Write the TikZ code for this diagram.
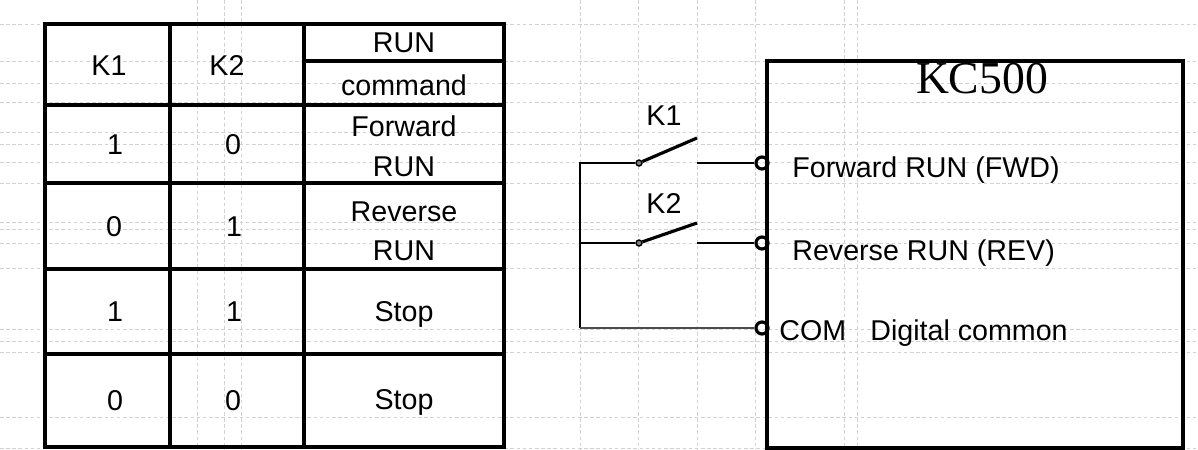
\documentclass[tikz,border=0pt]{standalone}
\usepackage{fontspec}
\setmainfont{Liberation Sans}
\newfontfamily\kcfont{Liberation Serif}
\usepackage{tikz}

\begin{document}
\begin{tikzpicture}[x=0.02cm, y=-0.02cm,
    cell/.style={inner sep=0pt, text height=11.6pt, text depth=0pt, font=\fontsize{16.3}{19}\selectfont},
    gridline/.style={gray!35, line width=0.4pt, dash pattern=on 2pt off 1.5pt},
    rule/.style={line width=1.9pt},
    wire/.style={line width=1.4pt},
    blade/.style={line width=1.8pt},
    term/.style={circle, draw, line width=1.8pt, minimum size=0.24cm, inner sep=0pt},
    contact/.style={circle, draw, line width=0.8pt, fill=black!50, minimum size=0.12cm, inner sep=0pt}]
    \useasboundingbox (0,0) rectangle (1198,450);
    \fill[white] (0,0) rectangle (1198,450);

    % sheet grid
    \foreach \y in {24,61,83,102,132,144,162,183,222,229,243,268,329,341,352,417,448}
      \draw[gridline] (0,\y) -- (1198,\y);
    \foreach \x in {197,224,241,580,638,697,755,844,857}
      \draw[gridline] (\x,0) -- (\x,450);

    % truth table
    \begin{scope}[rule]
      \draw (45,24) rectangle (504,447);
      \draw (170,24) -- (170,447);
      \draw (304,24) -- (304,447);
      \draw (304,61) -- (504,61);
      \foreach \y in {105,183,269,354}
        \draw (45,\y) -- (504,\y);
    \end{scope}

    \begin{scope}[every node/.style={cell}]
      \node (hk1) at (109,65) {K1};
      \node (hk2) at (227,65) {K2};
      \node (hrun) at (404,42) {RUN};
      \node (hcmd) at (404,85) {command};

      \node (ak1) at (115,144) {1};
      \node (ak2) at (233,144) {0};
      \node (acmd) at (404,126) {Forward};
      \node (acmdb) at (404,166) {RUN};

      \node (bk1) at (114,226) {0};
      \node (bk2) at (234,226) {1};
      \node (bcmd) at (404,211) {Reverse};
      \node (bcmdb) at (404,250) {RUN};

      \node (ck1) at (115,311) {1};
      \node (ck2) at (234,311) {1};
      \node (ccmd) at (404,311) {Stop};

      \node (dk1) at (115,400) {0};
      \node (dk2) at (233,400) {0};
      \node (dcmd) at (404,399) {Stop};
    \end{scope}

    % drive box
    \node [draw, line width=1.9pt, minimum width=8.32cm, minimum height=7.74cm, inner sep=0pt] (kc) at (975,254.5) {};
    \node [inner sep=0pt, text height=17.2pt, text depth=0pt, font=\kcfont\fontsize{26}{30}\selectfont] (kctitle) at (982,78) {KC500};

    \node [term] (fwd) at (762,163) {};
    \node [term] (rev) at (762,243) {};
    \node [term] (com) at (762,328) {};

    \begin{scope}[every node/.style={cell, anchor=west}]
      \node (fwdlab) at (792,167) {Forward RUN (FWD)};
      \node (revlab) at (792,250) {Reverse RUN (REV)};
      \node (comlab) at (779,330) {COM};
      \node (diglab) at (870,330) {Digital common};
    \end{scope}

    % switches
    \node [contact] (k1a) at (639,163) {};
    \node [contact] (k2a) at (639,243) {};
    \coordinate (k1b) at (697,163);
    \coordinate (k1t) at (697,138);
    \coordinate (k2b) at (697,243);
    \coordinate (k2t) at (697,223);
    \coordinate (j1) at (580,163);
    \coordinate (j2) at (580,243);
    \coordinate (j3) at (580,328);
    \node [cell] (k1lab) at (664,115) {K1};
    \node [cell] (k2lab) at (664,203) {K2};

    \begin{scope}[wire]
      \draw (k1a) -- (j1) -- (j3);
      \draw [black!70] (j3) -- (com);
      \draw (j2) -- (k2a);
      \draw (k1b) -- (fwd);
      \draw (k2b) -- (rev);
      \draw [blade] (k1a) -- (k1t);
      \draw [blade] (k2a) -- (k2t);
    \end{scope}
  \end{tikzpicture}
\end{document}
